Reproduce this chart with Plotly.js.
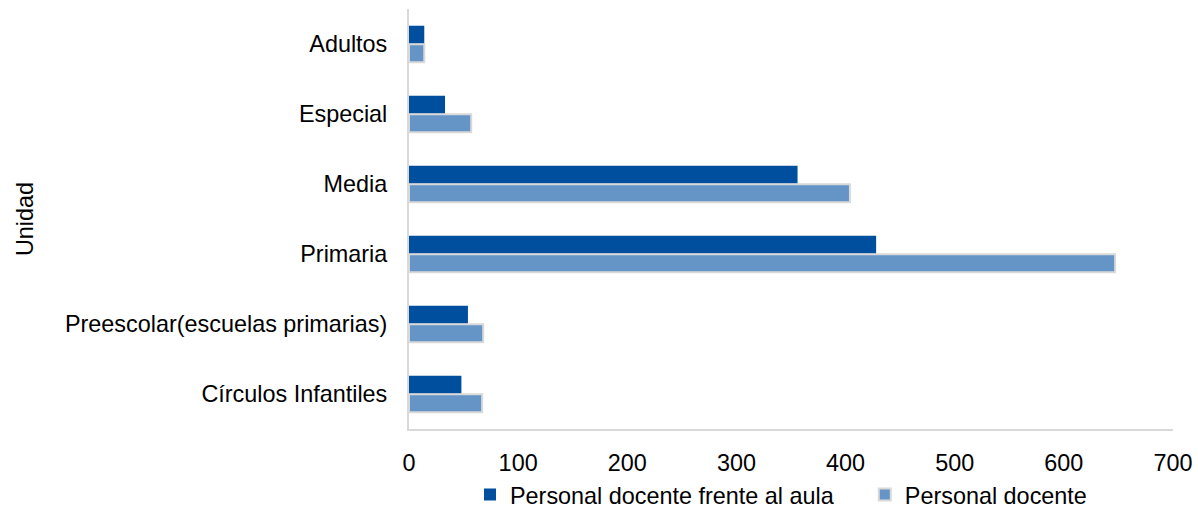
<!DOCTYPE html>
<html>
<head>
<meta charset="utf-8">
<script src="https://cdn.plot.ly/plotly-3.0.1.min.js"></script>
<style>html,body{margin:0;padding:0;background:#fff;}#chart{width:1198px;height:510px;}</style>
</head>
<body>
<div id="chart"></div>
<script>
const categories = ["Adultos", "Especial", "Media", "Primaria", "Preescolar(escuelas primarias)", "Círculos Infantiles"];
const frenteAlAula = [14, 33, 356, 428, 54, 48];
const personalDocente = [14, 57, 404, 647, 68, 67];
const xTicks = [0, 100, 200, 300, 400, 500, 600, 700];
const seriesNames = ["Personal docente frente al aula", "Personal docente"];

const font = {family: "Liberation Sans, Arial, sans-serif", size: 23.4, color: "#000"};

const traces = [
  {
    type: "bar", orientation: "h", name: seriesNames[0] + "\u00a0\u00a0\u00a0\u00a0",
    y: categories, x: frenteAlAula,
    marker: {color: "#004f9f", line: {width: 0}}
  },
  {
    type: "bar", orientation: "h", name: seriesNames[1],
    y: categories, x: personalDocente,
    marker: {color: "#6594c6", line: {color: "#d9d9d9", width: 2}}
  }
];

const layout = {
  width: 1198, height: 510,
  margin: {l: 409, r: 25, t: 9, b: 81, autoexpand: false},
  paper_bgcolor: "#fff", plot_bgcolor: "#fff",
  font: font,
  barmode: "group", bargap: 0.47, bargroupgap: 0.03,
  showlegend: true,
  legend: {orientation: "h", xref: "container", yref: "container", x: 470 / 1198, xanchor: "left", y: 0.03, yanchor: "middle", font: font},
  xaxis: {
    range: [0, 700], tickvals: xTicks, ticktext: xTicks.map(String),
    showgrid: false, zeroline: false, showline: true, linecolor: "#d9d9d9", linewidth: 2,
    ticks: "", ticklabelstandoff: 12, tickfont: font, fixedrange: true
  },
  yaxis: {
    type: "category", autorange: "reversed",
    showgrid: false, zeroline: false, showline: true, linecolor: "#d9d9d9", linewidth: 2,
    ticks: "", ticklabelstandoff: 15, tickfont: font,
    title: {text: "Unidad", font: font, standoff: 25}
  }
};

Plotly.newPlot("chart", traces, layout, {displayModeBar: false, staticPlot: true});
</script>
</body>
</html>
